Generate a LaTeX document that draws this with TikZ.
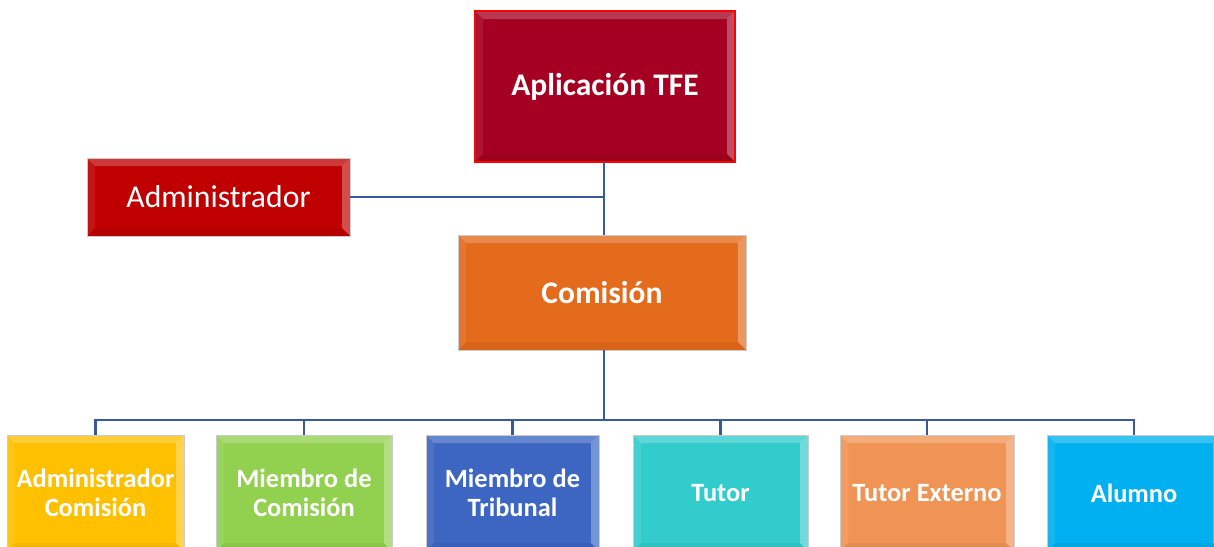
\documentclass[tikz,border=0pt]{standalone}
\usepackage{fontspec}
\setmainfont{Carlito}
\definecolor{conncol}{RGB}{59,89,152}
\definecolor{appcol}{HTML}{A50021}
\definecolor{admcol}{HTML}{C00000}
\definecolor{comcol}{HTML}{E46A1C}
\definecolor{c1}{HTML}{FFC000}
\definecolor{c2}{HTML}{92D050}
\definecolor{c3}{HTML}{3C66C2}
\definecolor{c4}{HTML}{33CCCC}
\definecolor{c5}{HTML}{F09455}
\definecolor{c6}{HTML}{00B0F0}
\tikzset{
  bevel/.style={path picture={
    \fill[white,opacity=0.22] (path picture bounding box.north west) -- (path picture bounding box.north east)
      -- ([xshift=-8pt,yshift=-8pt]path picture bounding box.north east) -- ([xshift=8pt,yshift=-8pt]path picture bounding box.north west) -- cycle;
    \fill[white,opacity=0.3] (path picture bounding box.north east) -- (path picture bounding box.south east)
      -- ([xshift=-8pt,yshift=8pt]path picture bounding box.south east) -- ([xshift=-8pt,yshift=-8pt]path picture bounding box.north east) -- cycle;
    \fill[white,opacity=0.08] (path picture bounding box.north west) -- (path picture bounding box.south west)
      -- ([xshift=8pt,yshift=8pt]path picture bounding box.south west) -- ([xshift=8pt,yshift=-8pt]path picture bounding box.north west) -- cycle;
    \fill[black,opacity=0.05] (path picture bounding box.south west) -- (path picture bounding box.south east)
      -- ([xshift=-8pt,yshift=8pt]path picture bounding box.south east) -- ([xshift=8pt,yshift=8pt]path picture bounding box.south west) -- cycle;
  }},
  box/.style={draw=black!20, line width=0.8pt, bevel, text=white, align=center, inner sep=0pt, outer sep=0pt},
  topbox/.style={box, font=\fontsize{31.5}{36}\selectfont\bfseries},
  botbox/.style={box, minimum height=116pt, font=\fontsize{26.4}{29}\selectfont\bfseries},
  conn/.style={draw=conncol, line width=2.8pt}
}
\begin{document}
\begin{tikzpicture}[x=1pt,y=-1pt]
\useasboundingbox (0,0) rectangle (1214,546);
\clip (0,0) rectangle (1214,546);
\node[topbox, fill=appcol, draw=red, line width=1.6pt, minimum width=260pt, minimum height=151pt] (app) at (605,86.5) {Aplicación TFE};
\node[box, fill=admcol, minimum width=263pt, minimum height=78pt, font=\fontsize{31.7}{36}\selectfont] (admin) at (218.5,197) {Administrador};
\node[topbox, fill=comcol, minimum width=288pt, minimum height=115pt] (com) at (602,292.5) {Comisión};
\node[botbox, fill=c1, minimum width=177pt] (b1) at (95.5,493) {Administrador\\Comisión};
\node[botbox, fill=c2, minimum width=176pt] (b2) at (304,493) {Miembro de\\Comisión};
\node[botbox, fill=c3, minimum width=173pt] (b3) at (512.5,493) {Miembro de\\Tribunal};
\node[botbox, fill=c4, minimum width=175pt] (b4) at (720.5,493) {Tutor};
\node[botbox, fill=c5, minimum width=174pt] (b5) at (927,493) {Tutor Externo};
\node[botbox, fill=c6, minimum width=174pt] (b6) at (1134,493) {Alumno};
\coordinate (bus) at (604,420);
\draw[conn] (app.south -| bus) -- (com.north -| bus);
\draw[conn] (admin.east) -- (admin.east -| bus);
\draw[conn] (com.south -| bus) -- (bus);
\foreach \b in {b1,b2,b3,b4,b5,b6}{
  \draw[conn] (bus) -| (\b.north);
}
\end{tikzpicture}
\end{document}
